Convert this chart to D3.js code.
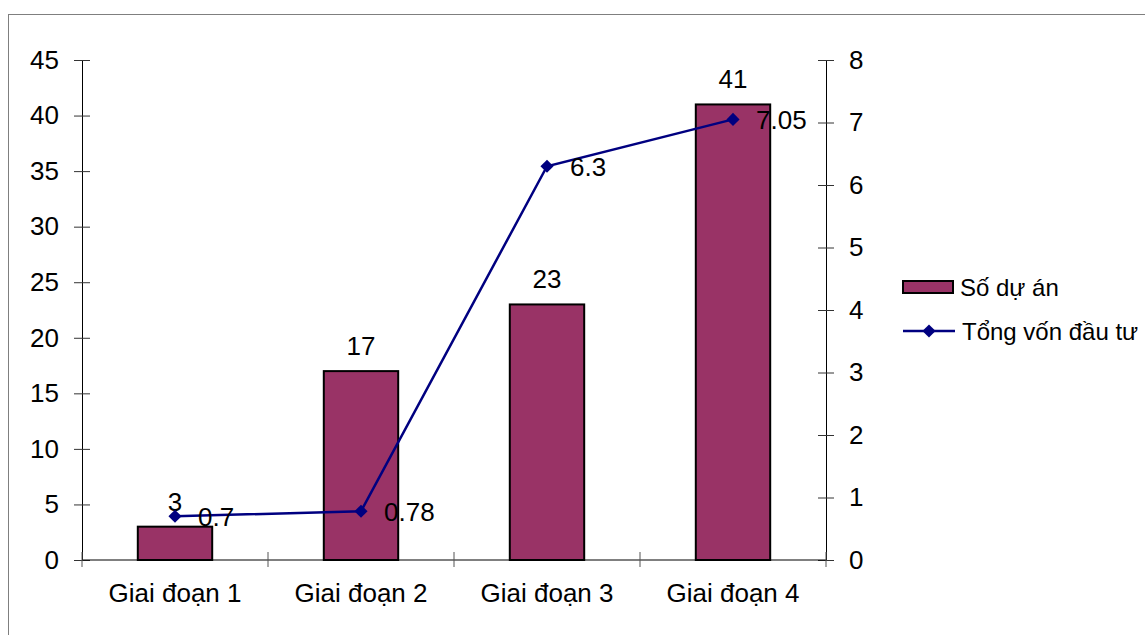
<!DOCTYPE html>
<html>
<head>
<meta charset="utf-8">
<script src="https://cdn.jsdelivr.net/npm/d3@7"></script>
<style>
  html, body { margin: 0; padding: 0; background: #fff; }
  svg { display: block; font-family: "Liberation Sans", Arial, sans-serif; }
</style>
</head>
<body>
<svg id="chart" width="1145" height="635"></svg>
<script>
const categories = ["Giai đoạn 1", "Giai đoạn 2", "Giai đoạn 3", "Giai đoạn 4"];
const projectCounts = [3, 17, 23, 41];
const totalCapital = [0.7, 0.78, 6.3, 7.05];
const leftTicks = [0, 5, 10, 15, 20, 25, 30, 35, 40, 45];
const rightTicks = [0, 1, 2, 3, 4, 5, 6, 7, 8];
const legendLabels = ["Số dự án", "Tổng vốn đầu tư"];

const svg = d3.select("#chart");
const fontSize = 26;
const legendFont = 24;
const barColor = "#993366";
const lineColor = "#000080";

// outer frame
svg.append("rect")
  .attr("x", 8.5).attr("y", 14.5)
  .attr("width", 1200).attr("height", 700)
  .attr("fill", "none").attr("stroke", "#7f7f7f").attr("stroke-width", 1);

const plotLeft = 82, plotRight = 826, plotTop = 60, plotBottom = 560;

const x = d3.scaleBand().domain(categories).range([plotLeft, plotRight])
  .paddingInner(0.6).paddingOuter(0.3);
const yL = d3.scaleLinear().domain([0, 45]).range([plotBottom, plotTop]);
const yR = d3.scaleLinear().domain([0, 8]).range([plotBottom, plotTop]);

// bars
svg.append("g").selectAll("rect").data(projectCounts).join("rect")
  .attr("x", (d, i) => x(categories[i]))
  .attr("y", d => yL(d))
  .attr("width", x.bandwidth())
  .attr("height", d => yL(0) - yL(d))
  .attr("fill", barColor).attr("stroke", "#000").attr("stroke-width", 2);

// left axis
const gL = svg.append("g").attr("transform", `translate(${plotLeft},0)`)
  .call(d3.axisLeft(yL).tickValues(leftTicks).tickSize(8).tickPadding(15).tickSizeOuter(0));
gL.select(".domain").attr("stroke", "#000");
gL.selectAll(".tick line").attr("x1", 8).attr("stroke", "#333");
gL.selectAll(".tick text").attr("font-size", fontSize).attr("font-family", "Liberation Sans, Arial").attr("fill", "#000");

// right axis
const gR = svg.append("g").attr("transform", `translate(${plotRight},0)`)
  .call(d3.axisRight(yR).tickValues(rightTicks).tickSize(8).tickPadding(15).tickSizeOuter(0));
gR.select(".domain").attr("stroke", "#000");
gR.selectAll(".tick line").attr("x1", -8).attr("stroke", "#333");
gR.selectAll(".tick text").attr("font-size", fontSize).attr("font-family", "Liberation Sans, Arial").attr("fill", "#000");

// bottom axis
const gB = svg.append("g").attr("transform", `translate(0,${plotBottom})`);
gB.append("line").attr("x1", plotLeft).attr("x2", plotRight).attr("y1", 0).attr("y2", 0).attr("stroke", "#000");
const bounds = categories.map(c => x(c) - x.step() * x.paddingInner() / 2);
bounds.push(plotRight);
gB.selectAll("line.tk").data(bounds).join("line").attr("class", "tk")
  .attr("x1", d => d).attr("x2", d => d).attr("y1", -8).attr("y2", 7)
  .attr("stroke", "#555");
gB.selectAll("text").data(categories).join("text")
  .attr("x", d => x(d) + x.bandwidth() / 2)
  .attr("y", 42)
  .attr("text-anchor", "middle")
  .attr("font-size", fontSize)
  .text(d => d);

// bar labels
svg.append("g").selectAll("text").data(projectCounts).join("text")
  .attr("x", (d, i) => x(categories[i]) + x.bandwidth() / 2)
  .attr("y", d => yL(d) - 16)
  .attr("text-anchor", "middle")
  .attr("font-size", fontSize)
  .text(d => d);

// line
const cx = i => x(categories[i]) + x.bandwidth() / 2;
const line = d3.line().x((d, i) => cx(i)).y(d => yR(d));
svg.append("path").datum(totalCapital)
  .attr("d", line).attr("fill", "none")
  .attr("stroke", lineColor).attr("stroke-width", 2.5);

const diamond = d3.symbol().type(d3.symbolDiamond2).size(110);
svg.append("g").selectAll("path").data(totalCapital).join("path")
  .attr("d", diamond)
  .attr("transform", (d, i) => `translate(${cx(i)},${yR(d)})`)
  .attr("fill", lineColor);

svg.append("g").selectAll("text").data(totalCapital).join("text")
  .attr("x", (d, i) => cx(i) + 23)
  .attr("y", d => yR(d))
  .attr("dy", "0.36em")
  .attr("font-size", fontSize)
  .text(d => d);

// legend
const lg = svg.append("g");
lg.append("rect").attr("x", 903).attr("y", 281).attr("width", 50).attr("height", 12)
  .attr("fill", barColor).attr("stroke", "#000").attr("stroke-width", 2);
lg.append("text").attr("x", 960).attr("y", 287).attr("dy", "0.36em")
  .attr("font-size", legendFont).text(legendLabels[0]);
lg.append("line").attr("x1", 903).attr("x2", 955).attr("y1", 331).attr("y2", 331)
  .attr("stroke", lineColor).attr("stroke-width", 2.5);
lg.append("path").attr("d", diamond).attr("transform", "translate(929,331)").attr("fill", lineColor);
lg.append("text").attr("x", 962).attr("y", 331).attr("dy", "0.36em")
  .attr("font-size", legendFont).text(legendLabels[1]);
</script>
</body>
</html>
